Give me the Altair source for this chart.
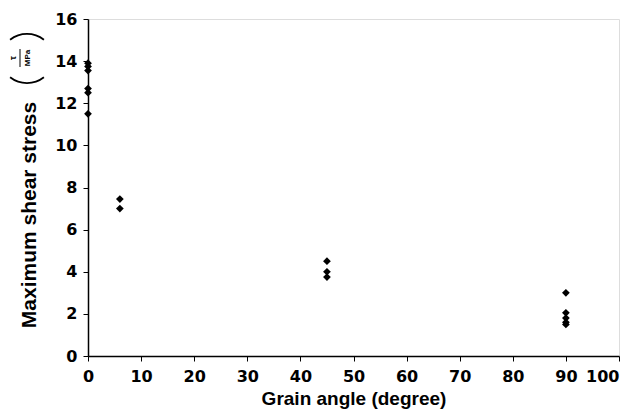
import altair as alt
import pandas as pd
import math

angles = [0, 0, 0, 0, 0, 0,
          6, 6,
          45, 45, 45,
          90, 90, 90, 90, 90]
stress = [13.9, 13.75, 13.55, 12.7, 12.5, 11.5,
          7.45, 7.0,
          4.5, 4.0, 3.75,
          3.0, 2.05, 1.8, 1.6, 1.5]

df = pd.DataFrame({"angle": angles, "stress": stress})
one = pd.DataFrame({"a": [0]})

FONT = "Liberation Sans"
TICKFONT = "DejaVu Sans"

points = alt.Chart(df).mark_point(shape="diamond", filled=True, color="black", size=60, opacity=1).encode(
    x=alt.X("angle:Q", scale=alt.Scale(domain=[0, 100], nice=False),
            axis=alt.Axis(values=list(range(0, 101, 10)), title="Grain angle (degree)",
                          titleFontSize=19, titleFontWeight="bold", titleFont=FONT,
                          titlePadding=5, labelFontSize=16, labelFontWeight="bold",
                          labelFont=TICKFONT, labelColor="black", titleColor="black",
                          domainColor="black", tickColor="black", tickSize=5,
                          domainWidth=1.5, labelPadding=7, labelFlush=False,
                          labelAlign=alt.ExprRef(expr="datum.value == 100 ? 'right' : 'center'"),
                          labelOverlap=False, grid=False)),
    y=alt.Y("stress:Q", scale=alt.Scale(domain=[0, 16], nice=False),
            axis=alt.Axis(values=list(range(0, 17, 2)), title=None,
                          labelFontSize=16, labelFontWeight="bold", labelFont=TICKFONT,
                          labelColor="black", domainColor="black", tickColor="black",
                          tickSize=5, domainWidth=1.5, labelPadding=6, labelFlush=False,
                          labelOverlap=False, grid=False)),
)

ytitle = alt.Chart(one).mark_text(text="Maximum shear stress", angle=270, font=FONT,
                                  fontSize=21, fontWeight="bold", color="black",
                                  align="center", baseline="middle").encode(
    x=alt.value(-58), y=alt.value(196))

R = 28.5
half = 0.66
top_arc = alt.Chart(one).mark_arc(color="black", radius=R, radius2=R - 1.8,
                                  theta=2 * math.pi - half, theta2=2 * math.pi + half).encode(
    x=alt.value(-61), y=alt.value(14 + R))
bot_arc = alt.Chart(one).mark_arc(color="black", radius=R, radius2=R - 1.8,
                                  theta=math.pi - half, theta2=math.pi + half).encode(
    x=alt.value(-61), y=alt.value(65 - R))
tau = alt.Chart(one).mark_text(text="τ", angle=270, font=FONT, fontSize=9, fontWeight="bold",
                               color="black", align="center", baseline="middle").encode(
    x=alt.value(-75), y=alt.value(39))
frac = alt.Chart(one).mark_rule(color="black", strokeWidth=1).encode(
    x=alt.value(-68), y=alt.value(30), y2=alt.value(48))
mpa = alt.Chart(one).mark_text(text="MPa", angle=270, font=FONT, fontSize=8, fontWeight="bold",
                               color="black", align="center", baseline="middle").encode(
    x=alt.value(-60), y=alt.value(39))

chart = alt.layer(points, ytitle, top_arc, bot_arc, tau, frac, mpa).properties(
    width=531, height=337,
    autosize=alt.AutoSizeParams(type="none"),
    padding={"left": 80, "top": 11, "right": 7, "bottom": 55},
).configure_view(stroke=None).configure(background="white")

chart.save("out.html", embed_options={"renderer": "svg", "actions": False})
